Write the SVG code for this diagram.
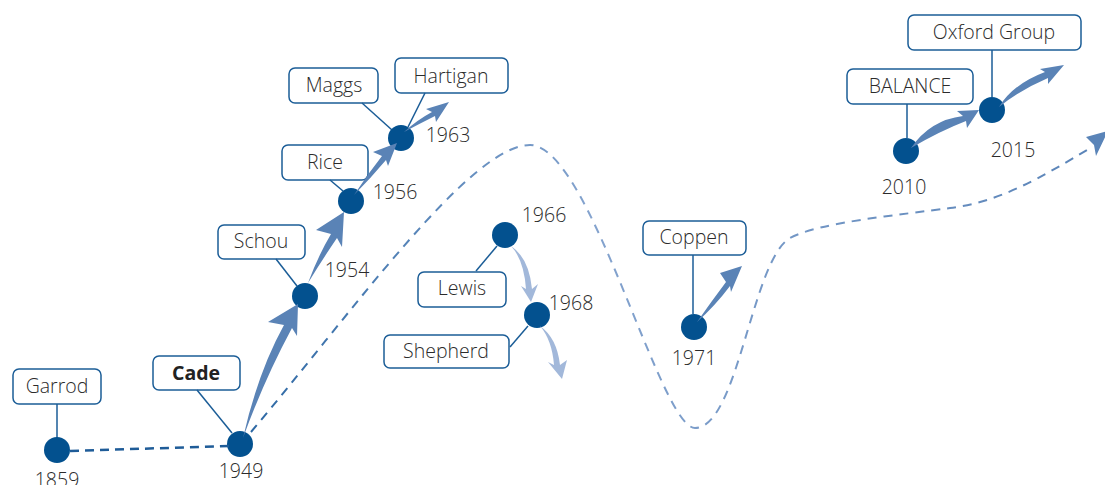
<svg xmlns="http://www.w3.org/2000/svg" width="1105" height="485" viewBox="0 0 1105 485">
<style>
  .box{fill:#fff;stroke:#1b5d97;stroke-width:1.5}
  .lead{stroke:#1b5d97;stroke-width:1.5;fill:none}
  .dot{fill:#03518f}
  .t{font-family:"Open Sans","Liberation Sans",sans-serif;font-size:19.5px;fill:#2b2b2b;font-weight:350;text-anchor:middle}
  .b{font-weight:700;fill:#222}
  .arr{fill:#5a83b6}
  .arrl{fill:#a2b8da}
</style>
<defs>
  <linearGradient id="dg" gradientUnits="userSpaceOnUse" x1="250" y1="0" x2="1100" y2="0">
    <stop offset="0" stop-color="#2d68a4"/>
    <stop offset="0.4" stop-color="#84a3ce"/>
    <stop offset="1" stop-color="#5a84b8"/>
  </linearGradient>
</defs>

<g id="n1859">
  <rect class="box" x="13" y="369" width="88" height="35" rx="6"/>
  <text class="t" x="57" y="393">Garrod</text>
  <line class="lead" x1="57" y1="404" x2="57" y2="438"/>
  <circle class="dot" cx="57" cy="450" r="13"/>
  <text class="t" x="57" y="487">1859</text>
</g>
<g id="n1949">
  <rect class="box" x="153" y="356" width="87" height="34" rx="6"/>
  <text class="t b" x="196" y="380">Cade</text>
  <line class="lead" x1="197" y1="390" x2="232" y2="433"/>
  <circle class="dot" cx="240" cy="444" r="13"/>
  <text class="t" x="241" y="478">1949</text>
</g>
<g id="n1954">
  <rect class="box" x="218" y="225" width="87" height="34" rx="6"/>
  <text class="t" x="261" y="248">Schou</text>
  <line class="lead" x1="276" y1="259" x2="297" y2="286"/>
  <circle class="dot" cx="305" cy="296" r="13"/>
  <text class="t" x="347" y="277">1954</text>
</g>
<g id="n1956">
  <rect class="box" x="282" y="145" width="86" height="35" rx="6"/>
  <text class="t" x="325" y="169">Rice</text>
  <line class="lead" x1="330" y1="180" x2="343" y2="191"/>
  <circle class="dot" cx="351" cy="201" r="13"/>
  <text class="t" x="395" y="199">1956</text>
</g>
<g id="n1963">
  <rect class="box" x="289" y="68" width="89" height="35" rx="6"/>
  <text class="t" x="334" y="92">Maggs</text>
  <rect class="box" x="395" y="58" width="113" height="35" rx="6"/>
  <text class="t" x="451" y="83">Hartigan</text>
  <line class="lead" x1="362" y1="103" x2="392" y2="130"/>
  <line class="lead" x1="425" y1="93" x2="408" y2="127"/>
  <circle class="dot" cx="401" cy="138" r="13"/>
  <text class="t" x="448" y="142">1963</text>
</g>
<g id="n1966">
  <rect class="box" x="418" y="272" width="88" height="35" rx="6"/>
  <text class="t" x="462" y="295">Lewis</text>
  <line class="lead" x1="476" y1="271" x2="497" y2="246"/>
  <circle class="dot" cx="505" cy="235" r="13"/>
  <text class="t" x="544" y="222">1966</text>
</g>
<g id="n1968">
  <rect class="box" x="384" y="335" width="125" height="33" rx="6"/>
  <text class="t" x="446" y="358">Shepherd</text>
  <line class="lead" x1="510" y1="347" x2="528" y2="326"/>
  <circle class="dot" cx="537" cy="315" r="13"/>
  <text class="t" x="571" y="310">1968</text>
</g>
<g id="n1971">
  <rect class="box" x="643" y="221" width="103" height="34" rx="6"/>
  <text class="t" x="694" y="244">Coppen</text>
  <line class="lead" x1="693" y1="255" x2="693" y2="314"/>
  <circle class="dot" cx="694" cy="327" r="13"/>
  <text class="t" x="694" y="365">1971</text>
</g>
<g id="n2010">
  <rect class="box" x="847" y="69" width="126" height="35" rx="6"/>
  <text class="t" x="910" y="93">BALANCE</text>
  <line class="lead" x1="907" y1="104" x2="907" y2="138"/>
  <circle class="dot" cx="906" cy="151" r="13"/>
  <text class="t" x="904" y="194">2010</text>
</g>
<g id="n2015">
  <rect class="box" x="908" y="15" width="173" height="35" rx="6"/>
  <text class="t" x="994" y="39">Oxford Group</text>
  <line class="lead" x1="992" y1="50" x2="992" y2="97"/>
  <circle class="dot" cx="992" cy="110" r="13"/>
  <text class="t" x="1013" y="157">2015</text>
</g>

<g id="connectors">
  <path d="M70,451 L229,446" fill="none" stroke="#1f5c98" stroke-width="2.5" stroke-dasharray="9 6"/>
  <path d="M251,432 C350,315 470,145 530,145 C590,145 660,428 695,428 C738,428 752,260 790,238 C820,222 900,215 950,208 C1000,202 1040,178 1092,147" fill="none" stroke="url(#dg)" stroke-width="2" stroke-dasharray="9 7"/>
  <path d="M1086,137 L1108,131 L1096,156 L1094,145 Z" fill="#5a84b8"/>
  <path class="arr" d="M243,438 Q258,372 284,325 L268,322 L298,304 L297,336 L292,328 Q264,380 243,438 Z"/>
  <path class="arr" d="M308,283 Q318,256 331,234 L316,230 L344,212 L342,247 L337,238 Q322,260 308,283 Z"/>
  <path class="arr" d="M354,195 Q367,175 382,156 L373,152 L397,143 L388,166 L386,160 Q370,179 354,195 Z"/>
  <path class="arr" d="M404,132 Q417,120 432,112 L426,109 L449,102 L436,122 L435,116 Q419,124 404,132 Z"/>
  <path class="arrl" d="M511,246 Q524,260 526,289 L521,286 L531,302 L538,284 L532,289 Q529,258 511,246 Z"/>
  <path class="arrl" d="M540,326 Q552,340 554,365 L548,362 L562,379 L567,360 L560,365 Q557,338 540,326 Z"/>
  <path class="arr" d="M697,322 Q711,302 726,282 L720,273 L742,266 L731,292 L730,286 Q715,306 697,322 Z"/>
  <path class="arr" d="M911,148 Q930,120 963,116 L957,111 L979,110 L967,128 L966,121 Q940,131 911,148 Z"/>
  <path class="arr" d="M999,107 Q1013,84 1045,72 L1040,69 L1064,65 L1048,84 L1048,78 Q1020,90 999,107 Z"/>
</g>
</svg>
